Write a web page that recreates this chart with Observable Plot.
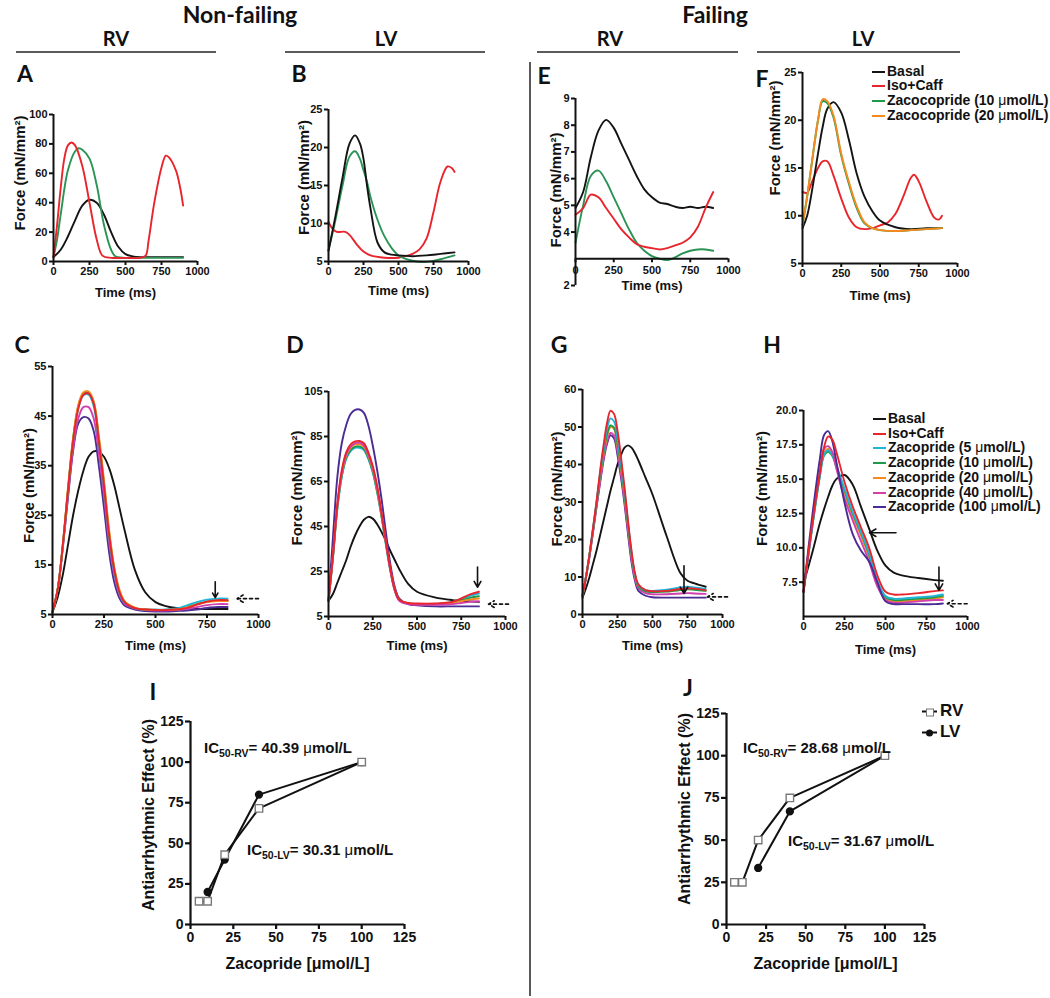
<!DOCTYPE html>
<html>
<head>
<meta charset="utf-8">
<script src="https://cdn.jsdelivr.net/npm/d3@7"></script>
<script src="https://cdn.jsdelivr.net/npm/@observablehq/plot@0.6"></script>
<style>
html,body{margin:0;padding:0;background:#fff;}
#fig{position:relative;width:1050px;height:998px;overflow:hidden;background:#fff;font-family:Arial,"Liberation Sans",Helvetica,sans-serif;color:#111;}
.t{position:absolute;white-space:nowrap;line-height:1;}
.hd{font-family:Lato,"Open Sans",sans-serif;font-weight:700;color:#111;}
.rule{position:absolute;background:#5a5a5a;}
.leg{position:absolute;font-weight:700;font-size:14px;line-height:1;white-space:nowrap;transform:translateY(-50%);}
.leg .sw{display:inline-block;width:13px;height:0;border-top:2px solid;vertical-align:middle;margin-right:2px;}
.mu{font-weight:400;}
.ic{position:absolute;font-weight:700;font-size:15px;white-space:nowrap;line-height:1;transform:translateY(-50%);}
.ic sub{font-size:10.5px;vertical-align:-4px;line-height:0;}
svg{position:absolute;overflow:visible;}
</style>
</head>
<body>
<div id="fig"></div>
<script>
// ---------------- DATA ----------------
const timeTicks = [0, 250, 500, 750, 1000];
const doseTicks = [0, 25, 50, 75, 100, 125];

// Panel A (Non-failing RV)
const tA_basal = [0,50,100,150,200,250,300,350,400,450,500,550,600,700,800,900];
const A_basal  = [3,8,17,28,38,42,40,32,20,10,5,3.5,3,3,3,3];
const tA_iso   = [0,25,50,75,100,125,150,200,250,300,340,400,500,600,640,660,700,750,780,800,850,880,900];
const A_iso    = [3,25,50,70,79,81,79,65,40,15,4,2.5,2.5,2.5,4,14,40,64,72,71,62,50,38];
const tA_zac   = [0,25,50,100,150,175,200,250,300,350,400,430,500,600,700,800,900];
const A_zac    = [3,15,32,62,75,77,76,70,52,25,8,3.5,2.5,2.5,2.5,2.5,2.5];

// Panel B (Non-failing LV)
const tB       = [0,50,100,150,190,225,250,275,300,350,400,450,500,600,700,800,900];
const B_basal  = [6.4,11,16,20.5,21.6,20.5,18.5,15,12,7.5,6.2,5.9,5.8,5.7,5.8,6,6.2];
const B_zac    = [6.5,10.5,15,18.8,19.5,18.5,17,15.5,13.5,10.5,8.3,6.8,5.8,5.1,4.95,5.3,5.8];
const tB_iso   = [0,30,60,120,150,200,250,300,400,500,550,600,650,700,750,800,850,880,900];
const B_iso    = [10.2,9.3,8.9,8.9,8.5,7.3,6.3,5.8,5.5,5.5,5.7,6,6.6,8,11.5,15.5,17.5,17.3,16.8];

// Panel E (Failing RV)
const tE       = [0,50,100,150,200,250,300,350,400,450,500,550,600,650,700,750,800,850,900];
const E_basal  = [4.9,5.5,6.8,7.8,8.2,7.9,7.3,6.7,6.1,5.6,5.3,5.1,5.05,4.95,4.9,4.95,4.9,4.95,4.9];
const E_zac    = [3.6,5,6.1,6.3,5.9,5.3,4.7,4.1,3.6,3.3,3.1,3.0,2.95,3.05,3.2,3.3,3.35,3.35,3.3];
const E_iso    = [4.65,4.9,5.4,5.3,4.9,4.5,4.1,3.8,3.55,3.45,3.4,3.35,3.4,3.5,3.6,3.8,4.2,4.9,5.5];

// Panel F (Failing LV)
const tF       = [0,30,60,100,130,160,200,250,300,350,400,450,500,600,700,800,900];
const F_basal  = [8.7,10,12.5,16.5,19.3,21.2,21.9,20.8,17.9,14.4,12,10.5,9.5,8.8,8.6,8.7,8.7];
const F_z10    = [9,12,15.5,20,22,21.8,20.3,16.3,13.3,10.8,9.2,8.7,8.5,8.4,8.5,8.6,8.7];
const F_z20    = [9,12,15.5,20,22.2,22,20.5,16.5,13.5,11,9.3,8.7,8.5,8.4,8.5,8.6,8.7];
const tF_iso   = [0,30,60,100,130,160,200,250,300,350,400,450,500,550,600,650,700,720,750,800,850,880,900];
const F_iso    = [12.5,12.4,13.5,15,15.7,15.7,14.2,11.8,9.8,8.8,8.6,8.7,9,9.3,10.2,12,14,14.3,13.6,11.5,9.8,9.6,10];

// Panel C (Non-failing RV, dose series)
const tC       = [0,25,50,75,100,125,150,175,200,225,250,275,300,325,350,400,450,500,550,600,650,700,750,800,850];
const C_basal  = [5.5,8.5,13,19,25,30,34,36.8,37.9,37.8,36.8,34.5,31,26.5,22,14,9.5,7.5,6.7,6.3,6.2,6.1,6.1,6.1,6.1];
const C_iso    = [5.5,10,19,30,40,46.5,49.3,49.6,47.5,40,31,21,14,9.5,7.5,6.3,6,5.9,5.9,6,6.3,7,7.6,7.9,7.9];
const C_z5     = [5.5,10,19,30,40,46.5,49.2,49.3,47,39.5,30.5,20.5,13.5,9.3,7.4,6.3,6,6,6,6.2,6.8,7.5,8,8.2,8.2];
const C_z10    = [5.5,10,19,30,40.5,47,49.6,49.8,47.8,40.5,31.5,21.5,14.2,9.8,7.6,6.3,6,5.9,5.9,6,6.4,7.1,7.6,7.8,7.8];
const C_z20    = [5.5,10,19,30.5,40.5,47.2,49.8,50,48,41,32,22,14.5,10,7.7,6.4,6,5.9,5.9,6,6.4,7,7.5,7.7,7.7];
const C_z40    = [5.5,10,18.5,29,38.5,44.5,46.8,46.8,44.5,37.5,29,19.5,13,9,7.2,6.2,5.9,5.8,5.8,5.9,6.1,6.5,6.9,7.1,7.1];
const C_z100   = [5.5,10,18.5,28.5,38,43.5,44.8,44.5,42,35,26.5,17.5,11.5,8.3,6.8,6,5.7,5.6,5.6,5.7,5.8,6,6.3,6.5,6.5];

// Panel D (Non-failing LV, dose series)
const tD       = [0,25,50,75,100,125,150,175,200,225,250,275,300,325,350,375,400,450,500,600,700,750,800,850];
const D_basal  = [12,15,20,25,30,36,41,45,48,49.3,48.5,46,42.5,38.5,34,30,26,19.5,16,13.5,12.3,12,11.7,11.5];
const D_iso    = [12,32,55,70,78,81.5,82.8,83,82,78,72,63,51,38,26,17,12.5,11,10.8,10.8,11.5,13,14.8,16];
const D_z5     = [12,31,53,67,75,78.5,80,80,79,75,69,60,49,36.5,25,16.5,12.3,10.8,10.5,10.5,11.5,12.8,14.2,15.2];
const D_z10    = [12,31,53,67.5,75.5,79,80.5,80.6,79.5,75.5,69.5,60.5,49.5,37,25.5,16.5,12.3,10.8,10.5,10.5,11.2,12.2,13.3,14];
const D_z20    = [12,31.5,54,68.5,76.5,80,81.5,81.5,80.5,76.5,70.5,61.5,50,37.5,25.5,16.5,12.3,10.8,10.5,10.5,11,11.8,12.5,13];
const D_z40    = [12,32,54.5,69,77,80.5,82,82.2,81,77,71,62,50.5,37.5,25.5,16.5,12,10.5,10.2,10.2,10.5,11,11.5,11.8];
const D_z100   = [12,40,67,82,90,95,96.8,97,95.5,90,81,70,57,42,28,18,13,10.5,10,9.5,9.5,9.5,9.5,9.5];

// Panel G (Failing RV, dose series)
const tG       = [0,25,50,75,100,125,150,175,200,225,250,275,300,325,350,375,400,450,500,600,700,750,800,880];
const G_basal  = [4.5,7,10,13.5,17,21,25,29,33,36.5,40,42.5,44.5,45.1,44.5,43,41,36.5,32,21,11,9,8.3,7.4];
const G_iso    = [5,10,16,23,30,38,45,51,54.3,53.5,49,42,34,25,17,11,8,6.5,6.2,6.3,6.8,7,6.9,6.5];
const G_z5     = [5,10,16,23,30,37.5,44,49.5,52.3,51.5,47,40.5,33,24.5,16.5,10.5,7.8,6.5,6.3,6.6,7.2,7.4,7.2,6.8];
const G_z10    = [5,10,16,22.5,29.5,37,43,48,50.4,49.8,45.5,39.5,32,24,16,10.5,7.5,6.2,6,6.1,6.5,6.7,6.6,6.3];
const G_z20    = [5,10,16,22.5,29.5,36.5,42.5,47.5,50,49.5,45,39,31.5,23.5,15.8,10.3,7.5,6.3,6.1,6.2,6.6,6.8,6.7,6.4];
const G_z40    = [5,10,15.5,22,29,35.5,41.5,46,48.4,47.8,43.5,37.5,30.5,22.5,15,9.5,7,5.7,5.4,5.4,5.6,5.7,5.6,5.5];
const G_z100   = [5,10,15.5,22,28.5,35,41,45.5,47.8,47,42.5,36.5,29.5,21.5,14,9,6.3,5,4.6,4.5,4.5,4.5,4.5,4.5];

// Panel H (Failing LV, dose series)
const tH       = [0,50,100,125,150,175,200,250,300,350,400,450,500,550,600,700,800,850];
const H_basal  = [7.4,9.5,11.8,12.8,13.7,14.5,15,15.3,14.6,13,11.4,9.8,8.7,8.2,8,7.8,7.65,7.6];
const H_iso    = [6.8,11.5,15.5,17.3,18.1,17.9,17,14.8,13,11.5,10,8,6.8,6.6,6.6,6.7,6.85,6.9];
const H_z5     = [6.8,11.3,15.3,16.8,17.1,16.8,16,14.3,12.6,11.2,9.6,7.6,6.5,6.3,6.3,6.4,6.5,6.6];
const H_z10    = [6.8,11.2,15.2,16.7,17,16.7,15.9,14.2,12.5,11.1,9.5,7.5,6.4,6.2,6.2,6.3,6.4,6.5];
const H_z20    = [6.8,11.3,15.4,16.9,17.2,16.9,16,14,12.3,10.9,9.3,7.4,6.3,6.1,6.1,6.2,6.3,6.4];
const H_z40    = [6.8,11.4,15.6,17.2,17.4,17,15.8,13.6,12,10.5,9,7.2,6.2,6,6,6.1,6.2,6.2];
const H_z100   = [6.8,12,16.5,18.2,18.5,17.8,16.3,13.3,11,9.8,9,7.5,6.1,5.9,5.9,5.9,5.9,5.95];

// Annotation arrows (data units)
const arrowsC = [{x1:790,y1:11.6,x2:790,y2:8.4,dash:false},{x1:1000,y1:8.2,x2:895,y2:8.2,dash:true}];
const arrowsD = [{x1:842,y1:27,x2:842,y2:18,dash:false},{x1:1017,y1:10.5,x2:904,y2:10.5,dash:true}];
const arrowsG = [{x1:725,y1:13,x2:725,y2:5.6,dash:false},{x1:1036,y1:4.7,x2:892,y2:4.7,dash:true}];
const arrowsH = [{x1:564,y1:11.1,x2:402,y2:11.1,dash:false},{x1:826,y1:8.6,x2:826,y2:6.9,dash:false},{x1:998,y1:5.93,x2:877,y2:5.93,dash:true}];

// Panels I and J (dose-response)
const I_RV_dose = [5,10,20,40,100],  I_RV_eff = [14.3,14.3,43,71.5,100];
const I_LV_dose = [10,20,40,100],    I_LV_eff = [20,40,80,100];
const J_RV_dose = [5,10,20,40,100],  J_RV_eff = [25,25,50,75,100];
const J_LV_dose = [20,40,100],       J_LV_eff = [33.5,67,100];

// Colours
const COL = {basal:"#141414", iso:"#e8242c", zac:"#2b9455", z5:"#1fb4d8", z10:"#1f9a4b", z20:"#f68a1e", z40:"#d23fae", z100:"#4a2c93"};

// ---------------- RENDER ----------------
const fig = document.getElementById("fig");
const FONT = "Arial, 'Liberation Sans', Helvetica, sans-serif";
function rows(t, v) { return t.map((tt, i) => ({t: tt, v: v[i]})); }
function place(el, left, top) { el.style.left = left + "px"; el.style.top = top + "px"; fig.appendChild(el); }

function tracePanel(p) {
  const [L, R, T, B] = p.frame;
  const mL = 64, mR = 64, mT = 14, mB = 54;
  const width = mL + (R - L) + mR, height = mT + (B - T) + mB;
  const axisAt = p.xAxisAt ?? p.yDomain[0];
  const marks = [];
  for (const s of p.series) {
    marks.push(Plot.line(rows(s.t, s.v), {x: "t", y: "v", stroke: s.color, strokeWidth: 1.9, curve: "catmull-rom"}));
  }
  marks.push(Plot.ruleY([axisAt], {x1: p.xDomain[0], x2: p.xDomain[1], stroke: "#111", strokeWidth: 2}));
  marks.push(Plot.ruleX([p.xDomain[0]], {y1: p.yDomain[0], y2: p.yDomain[1], stroke: "#111", strokeWidth: 2}));
  marks.push(Plot.axisY({ticks: p.yTicks, tickSize: 4, tickPadding: 2, strokeWidth: 2, stroke: "#111", label: null,
    tickFormat: p.yFormat || (d => String(d))}));
  if (p.xAxisAt == null) {
    marks.push(Plot.axisX({ticks: timeTicks, tickSize: 4, tickPadding: 2, strokeWidth: 2, stroke: "#111", label: null,
      tickFormat: d => String(d)}));
  } else {
    marks.push(Plot.ruleX(timeTicks, {x: d => d, y1: axisAt, y2: axisAt, insetBottom: -4, stroke: "#111", strokeWidth: 2}));
    marks.push(Plot.text(timeTicks, {x: d => d, y: axisAt, dy: 12, text: d => String(d), lineAnchor: "middle"}));
  }
  if (p.arrows) {
    marks.push(Plot.arrow(p.arrows.filter(a => !a.dash), {x1: "x1", y1: "y1", x2: "x2", y2: "y2", stroke: "#111", strokeWidth: 1.6, headLength: 7}));
    marks.push(Plot.arrow(p.arrows.filter(a => a.dash), {x1: "x1", y1: "y1", x2: "x2", y2: "y2", stroke: "#111", strokeWidth: 1.6, headLength: 7, strokeDasharray: "3,3"}));
  }
  marks.push(Plot.text([p.yLabel], {text: d => d, frameAnchor: "left", rotate: -90, dx: -p.yLabelOffset, dy: p.yLabelShift,
    textAnchor: "middle", lineAnchor: "middle", fontSize: 15}));
  marks.push(Plot.text([p.xLabel], {text: d => d, frameAnchor: "bottom", dy: p.xLabelDy, textAnchor: "middle", lineAnchor: "middle", fontSize: 13}));
  const svg = Plot.plot({
    width, height, marginLeft: mL, marginRight: mR, marginTop: mT, marginBottom: mB,
    x: {domain: p.xDomain, label: null, axis: null}, y: {domain: p.yDomain, label: null, axis: null},
    style: {fontFamily: FONT, fontSize: "11px", fontWeight: "bold", color: "#111", background: "transparent", overflow: "visible"},
    marks
  });
  place(svg, L - mL, T - mT);
}

function dosePanel(p) {
  const [L, R, T, B] = p.frame;
  const mL = 70, mR = 40, mT = 14, mB = 60;
  const width = mL + (R - L) + mR, height = mT + (B - T) + mB;
  const rv = p.rvDose.map((d, i) => ({d, e: p.rvEff[i]}));
  const lv = p.lvDose.map((d, i) => ({d, e: p.lvEff[i]}));
  const marks = [
    Plot.ruleY([0], {x1: 0, x2: 125, stroke: "#111", strokeWidth: 2.2}),
    Plot.ruleX([0], {y1: 0, y2: 125, stroke: "#111", strokeWidth: 2.2}),
    Plot.axisY({ticks: doseTicks, tickSize: 5, tickPadding: 2, strokeWidth: 2.2, stroke: "#111", label: null, tickFormat: d => String(d)}),
    Plot.axisX({ticks: doseTicks, tickSize: 5, tickPadding: 3, strokeWidth: 2.2, stroke: "#111", label: null, tickFormat: d => String(d)}),
    Plot.line(rv, {x: "d", y: "e", stroke: "#111", strokeWidth: 2}),
    Plot.line(lv, {x: "d", y: "e", stroke: "#111", strokeWidth: 2}),
    Plot.dot(lv, {x: "d", y: "e", r: 3.4, fill: "#111", stroke: "#111"}),
    Plot.dot(rv, {x: "d", y: "e", symbol: "square", r: 4.2, fill: "#fff", stroke: "#7a7a7a", strokeWidth: 1.4}),
    Plot.text(["Antiarrhythmic Effect (%)"], {text: d => d, frameAnchor: "left", rotate: -90, dx: -42, dy: p.yLabelShift,
      textAnchor: "middle", lineAnchor: "middle", fontSize: 16}),
    Plot.text(["Zacopride [\u03bcmol/L]"], {text: d => d, frameAnchor: "bottom", dy: 39, textAnchor: "middle", lineAnchor: "middle", fontSize: 16})
  ];
  const svg = Plot.plot({
    width, height, marginLeft: mL, marginRight: mR, marginTop: mT, marginBottom: mB,
    x: {domain: [0, 125], label: null, axis: null}, y: {domain: [0, 125], label: null, axis: null},
    style: {fontFamily: FONT, fontSize: "14px", fontWeight: "bold", color: "#111", background: "transparent", overflow: "visible"},
    marks
  });
  place(svg, L - mL, T - mT);
}

const F_LABEL = "Force (mN/mm\u00b2)", T_LABEL = "Time (ms)";

tracePanel({frame: [53, 197, 114, 261], xDomain: [0, 1000], yDomain: [0, 100], yTicks: [0, 20, 40, 60, 80, 100],
  yLabel: F_LABEL, xLabel: T_LABEL, yLabelOffset: 33, yLabelShift: -15, xLabelDy: 31,
  series: [{t: tA_basal, v: A_basal, color: COL.basal}, {t: tA_zac, v: A_zac, color: COL.zac}, {t: tA_iso, v: A_iso, color: COL.iso}]});

tracePanel({frame: [328, 468, 109, 261], xDomain: [0, 1000], yDomain: [5, 25], yTicks: [5, 10, 15, 20, 25],
  yLabel: F_LABEL, xLabel: T_LABEL, yLabelOffset: 24, yLabelShift: -8, xLabelDy: 29,
  series: [{t: tB_iso, v: B_iso, color: COL.iso}, {t: tB, v: B_zac, color: COL.zac}, {t: tB, v: B_basal, color: COL.basal}]});

tracePanel({frame: [575, 728, 98, 285], xDomain: [0, 1000], yDomain: [2, 9], yTicks: [2, 4, 5, 6, 7, 8, 9], xAxisAt: 3,
  yLabel: F_LABEL, xLabel: T_LABEL, yLabelOffset: 19, yLabelShift: -2, xLabelDy: 0,
  series: [{t: tE, v: E_basal, color: COL.basal}, {t: tE, v: E_zac, color: COL.zac}, {t: tE, v: E_iso, color: COL.iso}]});

tracePanel({frame: [802, 957, 72, 263], xDomain: [0, 1000], yDomain: [5, 25], yTicks: [5, 10, 15, 20, 25],
  yLabel: F_LABEL, xLabel: T_LABEL, yLabelOffset: 27, yLabelShift: -30, xLabelDy: 32,
  series: [{t: tF_iso, v: F_iso, color: COL.iso}, {t: tF, v: F_basal, color: COL.basal}, {t: tF, v: F_z10, color: COL.z10}, {t: tF, v: F_z20, color: COL.z20}]});

tracePanel({frame: [52, 258, 366, 614], xDomain: [0, 1000], yDomain: [5, 55], yTicks: [5, 15, 25, 35, 45, 55],
  yLabel: F_LABEL, xLabel: T_LABEL, yLabelOffset: 23, yLabelShift: -5, xLabelDy: 31, arrows: arrowsC,
  series: [{t: tC, v: C_basal, color: COL.basal}, {t: tC, v: C_z100, color: COL.z100}, {t: tC, v: C_z40, color: COL.z40},
    {t: tC, v: C_z5, color: COL.z5}, {t: tC, v: C_z10, color: COL.z10}, {t: tC, v: C_z20, color: COL.z20}, {t: tC, v: C_iso, color: COL.iso}]});

tracePanel({frame: [328, 505, 391, 616], xDomain: [0, 1000], yDomain: [5, 105], yTicks: [5, 25, 45, 65, 85, 105],
  yLabel: F_LABEL, xLabel: T_LABEL, yLabelOffset: 31, yLabelShift: -16, xLabelDy: 29, arrows: arrowsD,
  series: [{t: tD, v: D_basal, color: COL.basal}, {t: tD, v: D_z100, color: COL.z100}, {t: tD, v: D_z5, color: COL.z5},
    {t: tD, v: D_z10, color: COL.z10}, {t: tD, v: D_z20, color: COL.z20}, {t: tD, v: D_z40, color: COL.z40}, {t: tD, v: D_iso, color: COL.iso}]});

tracePanel({frame: [582, 722, 389, 614], xDomain: [0, 1000], yDomain: [0, 60], yTicks: [0, 10, 20, 30, 40, 50, 60],
  yLabel: F_LABEL, xLabel: T_LABEL, yLabelOffset: 25, yLabelShift: -13, xLabelDy: 31, arrows: arrowsG,
  series: [{t: tG, v: G_basal, color: COL.basal}, {t: tG, v: G_z100, color: COL.z100}, {t: tG, v: G_z40, color: COL.z40},
    {t: tG, v: G_z20, color: COL.z20}, {t: tG, v: G_z10, color: COL.z10}, {t: tG, v: G_z5, color: COL.z5}, {t: tG, v: G_iso, color: COL.iso}]});

tracePanel({frame: [803, 967, 410, 616], xDomain: [0, 1000], yDomain: [5, 20], yTicks: [7.5, 10, 12.5, 15, 17.5, 20],
  yFormat: d => d.toFixed(1),
  yLabel: F_LABEL, xLabel: T_LABEL, yLabelOffset: 41, yLabelShift: -25, xLabelDy: 33, arrows: arrowsH,
  series: [{t: tH, v: H_basal, color: COL.basal}, {t: tH, v: H_z20, color: COL.z20}, {t: tH, v: H_z10, color: COL.z10},
    {t: tH, v: H_z5, color: COL.z5}, {t: tH, v: H_z40, color: COL.z40}, {t: tH, v: H_z100, color: COL.z100}, {t: tH, v: H_iso, color: COL.iso}]});

dosePanel({frame: [190, 404, 721, 924], rvDose: I_RV_dose, rvEff: I_RV_eff, lvDose: I_LV_dose, lvEff: I_LV_eff, yLabelShift: -8});
dosePanel({frame: [726, 924, 713, 924], rvDose: J_RV_dose, rvEff: J_RV_eff, lvDose: J_LV_dose, lvEff: J_LV_eff, yLabelShift: -10});

// ---------------- HTML TEXT ----------------
function text(str, x, y, size, cls, anchor) {
  const d = document.createElement("div");
  d.className = "t " + (cls || "");
  d.style.fontSize = size + "px";
  d.innerHTML = str;
  d.style.transform = anchor === "left" ? "translate(0,-50%)" : "translate(-50%,-50%)";
  place(d, x, y);
}
function rule(x, y, w, h) { const d = document.createElement("div"); d.className = "rule"; d.style.width = w + "px"; d.style.height = h + "px"; place(d, x, y); }

text("Non-failing", 240, 14, 23, "hd");
text("Failing", 715, 14, 23, "hd");
text("RV", 116, 38, 20, "hd"); text("LV", 386, 38, 20, "hd");
text("RV", 610, 38, 20, "hd"); text("LV", 863, 38, 20, "hd");
rule(16, 51, 200, 2); rule(285, 51, 200, 2); rule(537, 51, 201, 2); rule(757, 51, 203, 2);
rule(529, 62, 2, 934);

const letters = [["A", 25, 73], ["B", 299, 73], ["E", 544, 75], ["F", 762, 78], ["C", 22, 344], ["D", 295, 344],
  ["G", 559, 344], ["H", 772, 344], ["I", 153, 691], ["J", 688, 687]];
for (const [s, x, y] of letters) text(s, x, y, 23, "hd");

// legends
function legend(items, x, ys) {
  items.forEach(([lab, col], i) => {
    const d = document.createElement("div");
    d.className = "leg";
    d.innerHTML = `<span class="sw" style="border-color:${col}"></span>${lab}`;
    place(d, x, ys[i]);
  });
}
const MU = '<span class="mu">\u03bc</span>';
legend([["Basal", COL.basal], ["Iso+Caff", COL.iso], [`Zacocopride (10 ${MU}mol/L)`, COL.z10], [`Zacocopride (20 ${MU}mol/L)`, COL.z20]],
  872, [71, 85, 100, 115]);
legend([["Basal", COL.basal], ["Iso+Caff", COL.iso], [`Zacopride (5 ${MU}mol/L)`, COL.z5], [`Zacopride (10 ${MU}mol/L)`, COL.z10],
  [`Zacopride (20 ${MU}mol/L)`, COL.z20], [`Zacopride (40 ${MU}mol/L)`, COL.z40], [`Zacopride (100 ${MU}mol/L)`, COL.z100]],
  873, [418, 433, 447, 462, 477, 492, 506]);

// J legend
function symLegend(x, y, lab, kind) {
  const d = document.createElement("div");
  d.className = "leg";
  d.style.fontSize = "17px";
  const sym = kind === "sq"
    ? '<span style="position:absolute;left:4px;top:50%;width:6px;height:6px;margin-top:-4px;border:1.4px solid #777;background:#fff"></span>'
    : '<span style="position:absolute;left:4px;top:50%;width:7px;height:7px;margin-top:-3.5px;border-radius:50%;background:#111"></span>';
  d.innerHTML = `<span style="position:relative;display:inline-block;width:15px;height:0;border-top:2px solid #111;vertical-align:middle;margin-right:3px">${sym}</span>${lab}`;
  place(d, x, y);
}
symLegend(922, 710, "RV", "sq");
symLegend(922, 731, "LV", "ci");

// IC50 annotations
function ic(html, x, y) { const d = document.createElement("div"); d.className = "ic"; d.innerHTML = html; place(d, x, y); }
ic(`IC<sub>50-RV</sub>= 40.39 ${MU}mol/L`, 204, 747);
ic(`IC<sub>50-LV</sub>= 30.31 ${MU}mol/L`, 247, 849);
ic(`IC<sub>50-RV</sub>= 28.68 ${MU}mol/L`, 743, 747);
ic(`IC<sub>50-LV</sub>= 31.67 ${MU}mol/L`, 788, 840);
</script>
</body>
</html>
